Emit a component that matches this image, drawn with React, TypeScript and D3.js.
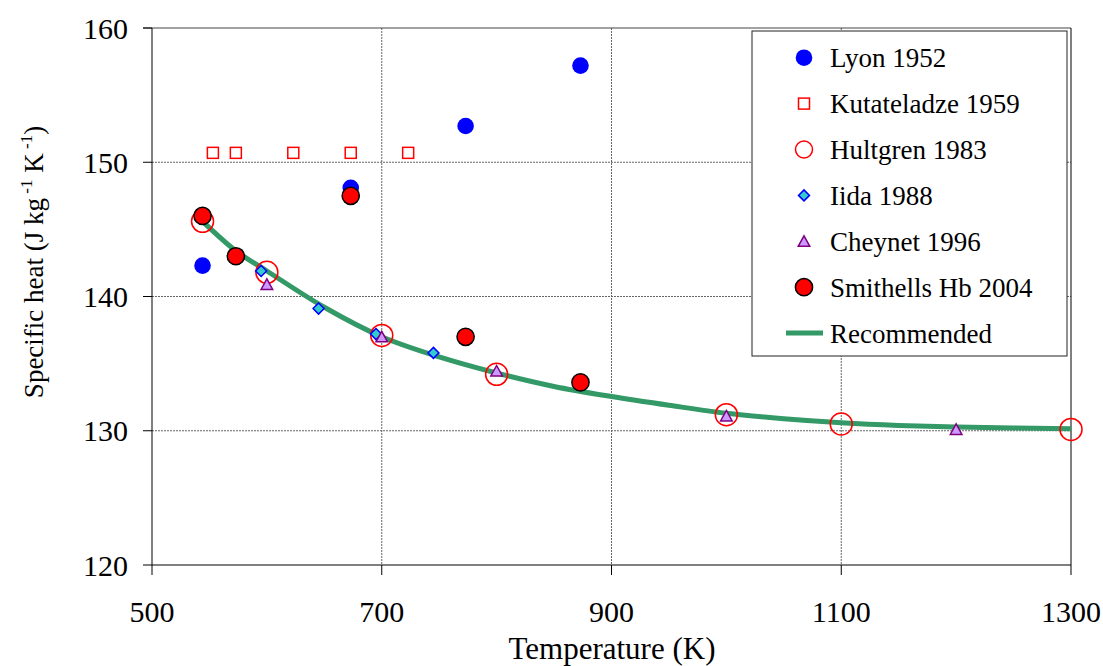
import { useMemo } from "react";
import * as d3 from "d3";

const WIDTH = 1103;
const HEIGHT = 666;
const MARGIN = { top: 28, right: 32, bottom: 101, left: 152 };

// Lyon 1952
const lyonT = [544, 673, 773, 873];
const lyonCp = [142.3, 148.1, 152.7, 157.2];
// Kutateladze 1959
const kutT = [553, 573, 623, 673, 723];
const kutCp = [150.7, 150.7, 150.7, 150.7, 150.7];
// Hultgren 1983
const hultT = [544, 600, 700, 800, 1000, 1100, 1300];
const hultCp = [145.6, 141.8, 137.1, 134.2, 131.2, 130.5, 130.1];
// Iida 1988
const iidaT = [595, 645, 695, 745];
const iidaCp = [141.9, 139.1, 137.2, 135.8];
// Cheynet 1996
const cheyT = [600, 700, 800, 1000, 1200];
const cheyCp = [140.9, 137.0, 134.45, 131.1, 130.1];
// Smithells Hb 2004
const smithT = [544, 573, 673, 773, 873];
const smithCp = [146.0, 143.0, 147.5, 137.0, 133.6];
// Recommended
const recT = [544, 573, 600, 650, 700, 750, 800, 850, 900, 950, 1000, 1050, 1100, 1150, 1200, 1250, 1300];
const recCp = [145.6, 143.4, 141.9, 139.2, 137.0, 135.5, 134.3, 133.3, 132.55, 131.9, 131.3, 130.9, 130.6, 130.4, 130.28, 130.2, 130.15];

const xTicks = [500, 700, 900, 1100, 1300];
const yTicks = [120, 130, 140, 150, 160];

const legendNames = [
  "Lyon 1952",
  "Kutateladze 1959",
  "Hultgren 1983",
  "Iida 1988",
  "Cheynet 1996",
  "Smithells Hb 2004",
  "Recommended",
];

const SERIF = { fontFamily: "'Liberation Serif', 'Times New Roman', serif" };

const zip = (xs: number[], ys: number[]) => xs.map((x, i) => ({ x, y: ys[i] }));

// marker drawing, shared by plot and legend
const Marker = ({ kind, cx, cy, legend = false }: { kind: string; cx: number; cy: number; legend?: boolean }) => {
  if (kind === "lyon") return <circle cx={cx} cy={cy} r={8.3} fill="#0000ff" />;
  if (kind === "kut")
    return <rect x={cx - 5.5} y={cy - 5.5} width={11} height={11} fill="white" stroke="#ff0000" strokeWidth={1.5} />;
  if (kind === "hult")
    return <circle cx={cx} cy={cy} r={legend ? 8.5 : 11} fill="none" stroke="#ff0000" strokeWidth={1.5} />;
  if (kind === "iida")
    return (
      <path
        d={`M${cx},${cy - 5.5}L${cx + 5.5},${cy}L${cx},${cy + 5.5}L${cx - 5.5},${cy}Z`}
        fill="#33cccc"
        stroke="#0000ff"
        strokeWidth={1.5}
      />
    );
  if (kind === "chey")
    return (
      <path
        d={`M${cx},${cy - 5.5}L${cx + 5.8},${cy + 5}L${cx - 5.8},${cy + 5}Z`}
        fill="#cc99ff"
        stroke="#800080"
        strokeWidth={1.5}
      />
    );
  if (kind === "smith") return <circle cx={cx} cy={cy} r={8.6} fill="#ff0000" stroke="#000" strokeWidth={1.5} />;
  return null;
};

export default function App() {
  const boundsWidth = WIDTH - MARGIN.left - MARGIN.right;
  const boundsHeight = HEIGHT - MARGIN.top - MARGIN.bottom;

  const xScale = useMemo(() => d3.scaleLinear().domain([500, 1300]).range([0, boundsWidth]), [boundsWidth]);
  const yScale = useMemo(() => d3.scaleLinear().domain([120, 160]).range([boundsHeight, 0]), [boundsHeight]);

  const series = [
    { kind: "lyon", pts: zip(lyonT, lyonCp) },
    { kind: "kut", pts: zip(kutT, kutCp) },
    { kind: "hult", pts: zip(hultT, hultCp) },
    { kind: "iida", pts: zip(iidaT, iidaCp) },
    { kind: "chey", pts: zip(cheyT, cheyCp) },
    { kind: "smith", pts: zip(smithT, smithCp) },
  ];

  const linePath = d3
    .line<{ x: number; y: number }>()
    .x((d) => xScale(d.x))
    .y((d) => yScale(d.y))
    .curve(d3.curveMonotoneX)(zip(recT, recCp)) as string;

  // legend box (page coords minus margin)
  const lg = { x: 752 - MARGIN.left, y: 31 - MARGIN.top, w: 315, h: 325 };
  const rowGap = 45.9;
  const row0 = 57.7 - MARGIN.top;
  const legendKinds = ["lyon", "kut", "hult", "iida", "chey", "smith", "rec"];

  return (
    <svg
      width={WIDTH}
      height={HEIGHT}
      style={{ position: "absolute", left: 0, top: 0, background: "white", ...SERIF }}
    >
      <g transform={`translate(${MARGIN.left},${MARGIN.top})`}>
        {/* gridlines */}
        {xTicks.slice(1, -1).map((t) => (
          <line key={"gx" + t} x1={xScale(t)} x2={xScale(t)} y1={0} y2={boundsHeight} stroke="#666" strokeDasharray="2,1" />
        ))}
        {yTicks.slice(1, -1).map((t) => (
          <line key={"gy" + t} x1={0} x2={boundsWidth} y1={yScale(t)} y2={yScale(t)} stroke="#666" strokeDasharray="2,1" />
        ))}
        {/* plot border top + right */}
        <line x1={-9} x2={boundsWidth} y1={0} y2={0} stroke="#444" />
        <line x1={boundsWidth} x2={boundsWidth} y1={0} y2={boundsHeight} stroke="#000" />

        {/* axes */}
        <line x1={0} x2={0} y1={0} y2={boundsHeight} stroke="#000" />
        <line x1={0} x2={boundsWidth} y1={boundsHeight} y2={boundsHeight} stroke="#000" />
        {yTicks.map((t) => (
          <g key={"ty" + t}>
            <line x1={-9} x2={0} y1={yScale(t)} y2={yScale(t)} stroke="#000" />
            <text x={-24} y={yScale(t)} dy="0.35em" textAnchor="end" fontSize={30} style={SERIF}>
              {t}
            </text>
          </g>
        ))}
        {xTicks.map((t) => (
          <g key={"tx" + t}>
            <line x1={xScale(t)} x2={xScale(t)} y1={boundsHeight} y2={boundsHeight + 10} stroke="#000" />
            <text x={xScale(t)} y={622 - MARGIN.top} textAnchor="middle" fontSize={30} style={SERIF}>
              {t}
            </text>
          </g>
        ))}

        {/* recommended curve under the markers */}
        <path d={linePath} fill="none" stroke="#339966" strokeWidth={5} />

        {series.map((s) =>
          s.pts.map((p, i) => <Marker key={s.kind + i} kind={s.kind} cx={xScale(p.x)} cy={yScale(p.y)} />)
        )}

        {/* legend */}
        <rect x={lg.x} y={lg.y} width={lg.w} height={lg.h} fill="white" stroke="#222" />
        {legendNames.map((name, i) => {
          const cy = row0 + i * rowGap;
          const k = legendKinds[i];
          return (
            <g key={name}>
              {k === "rec" ? (
                <line x1={786 - MARGIN.left} x2={823 - MARGIN.left} y1={cy} y2={cy} stroke="#339966" strokeWidth={5} />
              ) : (
                <Marker kind={k} cx={804 - MARGIN.left} cy={cy} legend />
              )}
              <text x={830 - MARGIN.left} y={cy} dy="0.35em" fontSize={27} style={SERIF}>
                {name}
              </text>
            </g>
          );
        })}
      </g>

      {/* axis titles */}
      <text x={612} y={659} textAnchor="middle" fontSize={31} style={SERIF}>
        Temperature (K)
      </text>
      <text transform="translate(43,262) rotate(-90)" textAnchor="middle" fontSize={27} style={SERIF}>
        Specific heat (J kg
        <tspan dy={-11} fontSize={17}>
          {" "}-1
        </tspan>
        <tspan dy={11}> K</tspan>
        <tspan dy={-11} fontSize={17}>
          {" "}-1
        </tspan>
        <tspan dy={11}>)</tspan>
      </text>
    </svg>
  );
}
